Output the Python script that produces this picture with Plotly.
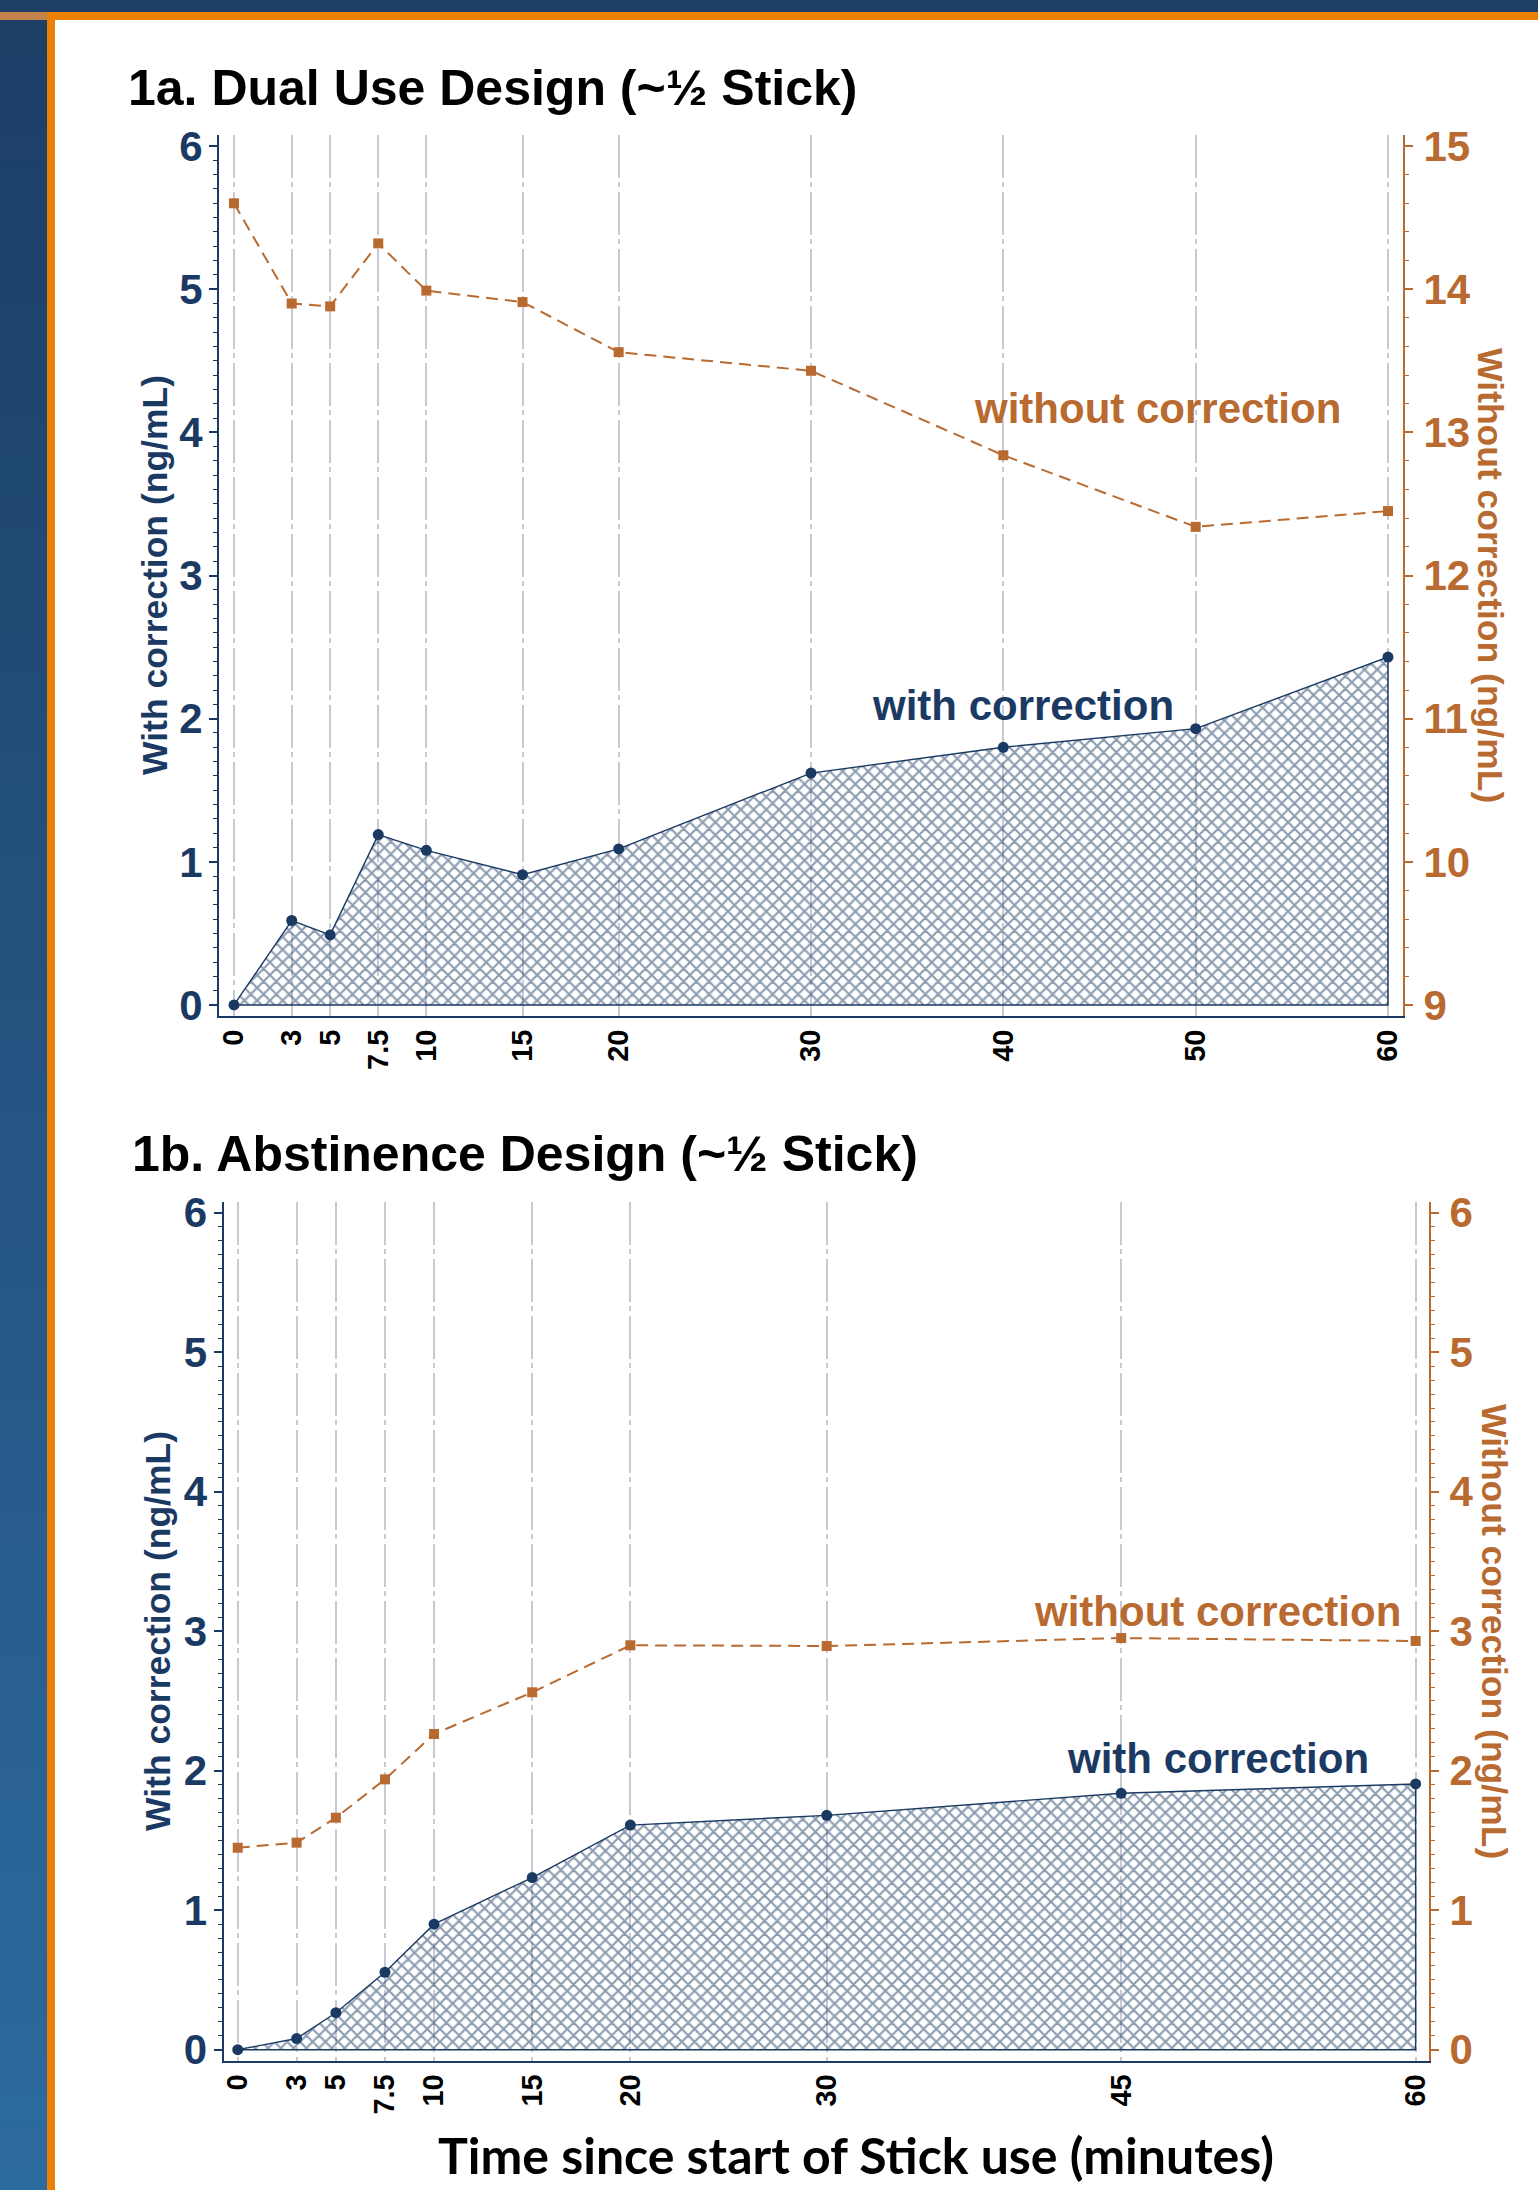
import plotly.graph_objects as go

PAGE_W, PAGE_H = 1538, 2200
OFF = 0
W, H = 1538, 2190

NAVY = "#1b3a63"
ORANGE = "#b86a30"
GRID = "#c9c9d6"
FONT = "Liberation Sans"

# ---------------- data ----------------
time_a = [0, 3, 5, 7.5, 10, 15, 20, 30, 40, 50, 60]
tick_a = ["0", "3", "5", "7.5", "10", "15", "20", "30", "40", "50", "60"]
with_a = [0.0, 0.59, 0.49, 1.19, 1.08, 0.91, 1.09, 1.62, 1.80, 1.93, 2.43]
without_a = [14.60, 13.90, 13.88, 14.32, 13.99, 13.91, 13.56, 13.43, 12.84, 12.34, 12.45]

time_b = [0, 3, 5, 7.5, 10, 15, 20, 30, 45, 60]
tick_b = ["0", "3", "5", "7.5", "10", "15", "20", "30", "45", "60"]
with_b = [0.0, 0.08, 0.265, 0.555, 0.90, 1.234, 1.61, 1.68, 1.838, 1.905]
without_b = [1.448, 1.484, 1.663, 1.938, 2.263, 2.562, 2.899, 2.894, 2.951, 2.93]

left_ticks = [0, 1, 2, 3, 4, 5, 6]
right_ticks_a = [9, 10, 11, 12, 13, 14, 15]
right_ticks_b = [0, 1, 2, 3, 4, 5, 6]

title_a = "1a. Dual Use Design (~½ Stick)"
title_b = "1b. Abstinence Design (~½ Stick)"
ylab_left = "With correction (ng/mL)"
ylab_right = "Without correction (ng/mL)"
xlab = "Time since start of Stick use (minutes)"
lab_without = "without correction"
lab_with = "with correction"


def px(x):
    return (x - OFF) / W


def py(y):
    return 1 - (y - OFF) / H


fig = go.Figure()


def add_panel(times, w, wo, xa, ya, ya2):
    fig.add_trace(go.Scatter(
        x=list(times) + [times[-1], times[0]],
        y=list(w) + [0, 0],
        mode="lines", fill="toself",
        fillcolor="rgba(0,0,0,0)",
        fillpattern=dict(shape="x", fgcolor=NAVY, bgcolor="rgba(255,255,255,0)",
                         size=9, solidity=0.42),
        line=dict(color=NAVY, width=1.4),
        xaxis=xa, yaxis=ya, showlegend=False, hoverinfo="skip"))
    fig.add_trace(go.Scatter(
        x=times, y=w, mode="markers",
        marker=dict(symbol="circle", size=11, color=NAVY),
        xaxis=xa, yaxis=ya, showlegend=False))
    fig.add_trace(go.Scatter(
        x=times, y=wo, mode="lines+markers",
        line=dict(color=ORANGE, width=2, dash="12px,7px"),
        marker=dict(symbol="square", size=10, color=ORANGE),
        xaxis=xa, yaxis=ya2, showlegend=False))


add_panel(time_a, with_a, without_a, "x", "y", "y2")
add_panel(time_b, with_b, without_b, "x2", "y3", "y4")

xcommon = dict(
    showgrid=True, gridcolor=GRID, gridwidth=1.5, griddash="43px,4px,5px,5px",
    showline=True, linecolor=NAVY, linewidth=2, zeroline=False,
    ticks="", tickangle=-90, tickmode="array", automargin=False,
    tickfont=dict(family=FONT, size=29, color="black", weight="bold"),
    ticklabelstandoff=0,
)
ycommon = dict(
    showgrid=False, zeroline=False, showline=True, linewidth=2, automargin=False,
    ticks="outside", ticklen=8, tickwidth=1.5, tickmode="array",
)

fig.update_layout(
    width=W, height=H, margin=dict(l=0, r=0, t=0, b=0, autoexpand=False),
    paper_bgcolor="white", plot_bgcolor="white", showlegend=False,
    xaxis=dict(xcommon, domain=[px(219), px(1403)], range=[-0.78, 60.78],
               tickvals=time_a, ticktext=tick_a, anchor="y"),
    yaxis=dict(ycommon, domain=[py(1016), py(135)], range=[-0.077, 6.077],
               tickvals=left_ticks, linecolor=NAVY, tickcolor=NAVY,
               tickfont=dict(family=FONT, size=42, color=NAVY, weight="bold"),
               minor=dict(dtick=0.1, ticks="outside", ticklen=4, tickcolor=NAVY, tickwidth=1.2),
               anchor="x", ticklabelstandoff=-2),
    yaxis2=dict(ycommon, domain=[py(1016), py(135)], range=[9 - 0.077, 15.077],
                tickvals=right_ticks_a, linecolor=ORANGE, tickcolor=ORANGE,
                tickfont=dict(family=FONT, size=42, color=ORANGE, weight="bold"),
                minor=dict(dtick=0.2, ticks="outside", ticklen=4, tickcolor=ORANGE, tickwidth=1.2),
                overlaying="y", side="right", anchor="x", ticklabelstandoff=2),
    xaxis2=dict(xcommon, domain=[px(223.6), px(1429)], range=[-0.72, 60.68],
                tickvals=time_b, ticktext=tick_b, anchor="y3"),
    yaxis3=dict(ycommon, domain=[py(2060.7), py(1201.7)], range=[-0.079, 6.079],
                tickvals=left_ticks, linecolor=NAVY, tickcolor=NAVY,
                tickfont=dict(family=FONT, size=42, color=NAVY, weight="bold"),
                minor=dict(dtick=0.1, ticks="outside", ticklen=4, tickcolor=NAVY, tickwidth=1.2),
                anchor="x2", ticklabelstandoff=-2),
    yaxis4=dict(ycommon, domain=[py(2060.7), py(1201.7)], range=[-0.079, 6.079],
                tickvals=right_ticks_b, linecolor=ORANGE, tickcolor=ORANGE,
                tickfont=dict(family=FONT, size=42, color=ORANGE, weight="bold"),
                minor=dict(dtick=0.1, ticks="outside", ticklen=4, tickcolor=ORANGE, tickwidth=1.2),
                overlaying="y3", side="right", anchor="x2", ticklabelstandoff=2),
)

# ---------------- frame decoration ----------------
shapes = []


def rect(x0, y0, x1, y1, color):
    shapes.append(dict(type="rect", xref="paper", yref="paper",
                       x0=px(x0), x1=px(x1), y0=py(y1), y1=py(y0),
                       fillcolor=color, line=dict(width=0), layer="above"))


c0 = (28, 63, 102)
c1 = (45, 106, 158)
n = 60
top, bot = 20, PAGE_H
for i in range(n):
    t = i / (n - 1)
    col = "rgb(%d,%d,%d)" % tuple(round(a + (b - a) * t) for a, b in zip(c0, c1))
    y0 = top + (bot - top) * i / n
    y1 = top + (bot - top) * (i + 1) / n + 1
    rect(0, y0, 47, y1, col)
rect(0, 0, PAGE_W, 12, "#1c3f66")
rect(47, 12, PAGE_W, 20, "#ec7f06")
rect(0, 12, 47, 20, "#c3834a")
rect(47, 12, 55, PAGE_H, "#ec7f06")
fig.update_layout(shapes=shapes)

# ---------------- text ----------------
ann = []
ann.append(dict(text=title_a, xref="paper", yref="paper", x=px(126), y=py(88),
                xanchor="left", yanchor="middle", showarrow=False,
                font=dict(family=FONT, size=50, color="black", weight="bold")))
ann.append(dict(text=title_b, xref="paper", yref="paper", x=px(130), y=py(1154),
                xanchor="left", yanchor="middle", showarrow=False,
                font=dict(family=FONT, size=50, color="black", weight="bold")))
for xc, yc in [(155, 575), (158, 1631)]:
    ann.append(dict(text=ylab_left, xref="paper", yref="paper", x=px(xc), y=py(yc),
                    textangle=-90, showarrow=False, xanchor="center", yanchor="middle",
                    font=dict(family=FONT, size=35.5, color=NAVY, weight="bold")))
for xc, yc in [(1490, 575), (1494, 1631)]:
    ann.append(dict(text=ylab_right, xref="paper", yref="paper", x=px(xc), y=py(yc),
                    textangle=90, showarrow=False, xanchor="center", yanchor="middle",
                    font=dict(family=FONT, size=35.5, color=ORANGE, weight="bold")))
ann.append(dict(text=xlab, xref="paper", yref="paper", x=px(856), y=py(2155),
                showarrow=False, xanchor="center", yanchor="middle",
                font=dict(family="Lato", size=50, color="black", weight="bold")))
ann.append(dict(text=lab_without, xref="x", yref="y2", x=48.0, y=13.17,
                showarrow=False, font=dict(family=FONT, size=42, color=ORANGE, weight="bold")))
ann.append(dict(text=lab_with, xref="x", yref="y", x=41.0, y=2.09,
                showarrow=False, font=dict(family=FONT, size=42, color=NAVY, weight="bold")))
ann.append(dict(text=lab_without, xref="x2", yref="y4", x=49.9, y=3.14,
                showarrow=False, font=dict(family=FONT, size=42, color=ORANGE, weight="bold")))
ann.append(dict(text=lab_with, xref="x2", yref="y3", x=49.95, y=2.09,
                showarrow=False, font=dict(family=FONT, size=42, color=NAVY, weight="bold")))
fig.update_layout(annotations=ann)

fig.write_html("out.html")
